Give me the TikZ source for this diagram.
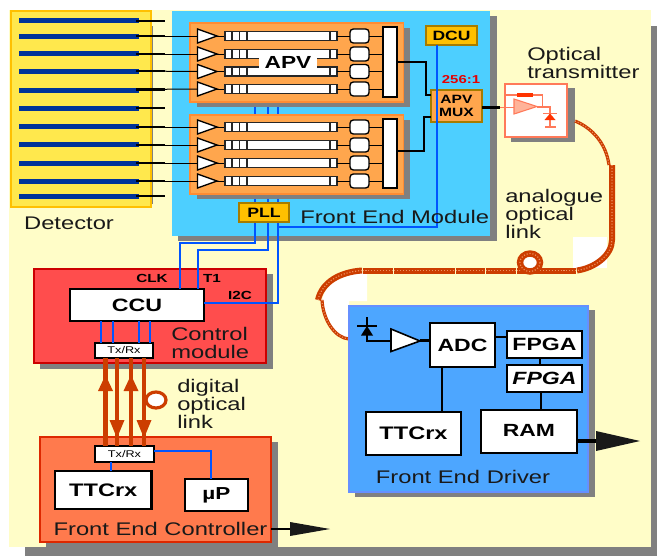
\documentclass[tikz,border=0pt]{standalone}
\usepackage{fontspec}
\setmainfont[FakeStretch=1.3]{Liberation Sans}
\definecolor{bgyellow}{HTML}{FFFDC8}
\definecolor{shadowgray}{HTML}{808080}
\definecolor{detfill}{HTML}{FFE84D}
\definecolor{detline}{HTML}{FFC000}
\definecolor{strip}{HTML}{003399}
\definecolor{modblue}{HTML}{4DCFFF}
\definecolor{apvor}{HTML}{FFA64D}
\definecolor{apvline}{HTML}{FF8C33}
\definecolor{brownline}{HTML}{A67C00}
\definecolor{gold}{HTML}{FFC000}
\definecolor{wire}{HTML}{0055FF}
\definecolor{ctrlred}{HTML}{FF4D4D}
\definecolor{ctrlline}{HTML}{CC0000}
\definecolor{fecor}{HTML}{FF7A4D}
\definecolor{fecline}{HTML}{DD2800}
\definecolor{fedblue}{HTML}{4DA6FF}
\definecolor{fedline}{HTML}{6690FF}
\definecolor{link}{HTML}{CC3D00}
\definecolor{txline}{HTML}{FF7A5A}
\definecolor{txfill}{HTML}{FFB399}
\definecolor{fibrelight}{HTML}{EE9060}
\newcommand{\bx}[7][]{%
  \node[boxbase,#1,minimum width={((#5)-(#3))*0.75pt},minimum height={((#6)-(#4))*0.75pt}] (#2) at ({((#3)+(#5))/2},{((#4)+(#6))/2}) {#7};}
\newcommand{\shd}[4]{\fill[fill=shadowgray] (#1,#2) rectangle (#3,#4);}
\tikzset{
  x=0.75pt,y=-0.75pt,
  boxbase/.style={rectangle,inner sep=0pt,outer sep=0pt},
  wbox/.style={draw=black,fill=white,line width=1.6pt},
  lab/.style={font=\fontsize{13.7}{13.5}\selectfont,text=black!90,inner sep=0pt},
  labl/.style={lab,anchor=west},
  thinw/.style={draw=black,line width=0.75pt},
  blk/.style={draw=black,line width=1.6pt},
  bw/.style={draw=wire,line width=1.5pt},
  stub/.style={draw=black,line width=1.9pt},
  goldbox/.style={draw=brownline,fill=gold,line width=1.5pt,font=\bfseries\fontsize{10.1}{11}\selectfont},
  fib/.style={draw=link,line width=#1},
  fibd/.style={draw=fibrelight,line width=0.9pt,dash pattern=on 0.8pt off 1.4pt},
  fl/.style={draw=link,line width=3.2pt},
}
\begin{document}
\begin{tikzpicture}
\useasboundingbox (0,0) rectangle (657,557);
% page
\fill[fill=shadowgray] (25,26) rectangle (657,556);
\fill[white] (0,0) rectangle (651,26);
\fill[white] (0,26) rectangle (25,557);
\fill[white] (651,0) rectangle (657,26);
\fill[white] (0,556) rectangle (657,557);
\fill[bgyellow] (9,10) rectangle (651,547);
\fill[white] (573,237) rectangle (607,268);
\fill[white] (362,273) .. controls (340,275) and (325,285) .. (322,300) .. controls (323,320) and (335,338) .. (349,340) -- (349,301) -- (367,301) -- (367,273) -- cycle;
% detector
\shd{14}{26}{153}{204}
\bx[draw=detline,fill=detfill,line width=1.5pt]{det}{11}{11}{151}{207}{}
\foreach \i/\y in {1/20.5,2/36.5,3/53.5,4/71.5,5/90,6/108,7/126.5,8/144.5,9/163,10/181,11/196.5}{
  \bx[fill=strip]{s\i}{19}{\y-2.5}{139}{\y+2.5}{}
}
% module
\shd{178}{16}{497}{241}
\bx[fill=modblue]{fem}{172}{11}{490}{236}{}
\foreach \i/\y in {1/21,2/36,3/54,4/71,5/89.5,6/108,7/127,8/145,9/163,10/181,11/196}{
  \coordinate (st\i) at (136,\y);
  \coordinate (se\i) at (165,\y);
}
% blue wires under APV boxes
\foreach \xx in {255,267.5,278}{ \draw[bw] (\xx,102) -- (\xx,204); }
% APV boxes
\shd{197}{28}{410}{107}
\shd{197}{120}{410}{199}
\bx[draw=apvline,fill=apvor,line width=1pt]{apva}{190}{23}{403.5}{102}{}
\bx[draw=apvline,fill=apvor,line width=1pt]{apvb}{190}{115}{403.5}{194}{}
\bx[draw=black,fill=white,line width=0.8pt]{oa}{383}{27}{397}{97}{}
\bx[draw=black,fill=white,line width=0.8pt]{ob}{383}{119}{397}{188}{}
\foreach \i/\y/\o in {2/36/oa,3/54/oa,4/71.5/oa,5/89/oa,7/127/ob,8/145/ob,9/163/ob,10/181/ob}{
  \draw[thinw] (st\i) -- (197.5,\y);
  \draw[thinw] (217,\y) -- (225,\y);
  \bx[draw=black!85,fill=white,line width=1pt]{bar\i}{225}{\y-4.5}{337}{\y+4.5}{}
  \foreach \dd in {232,239.5,247,330}{ \draw[draw=black!85,line width=0.9pt] (\dd,\y-4.5) -- (\dd,\y+4.5); }
  \draw[draw=black,fill=white,line width=1pt] (197.5,\y-7) -- (217,\y) -- (197.5,\y+7) -- cycle;
  \bx[draw=black,fill=white,line width=1pt,rounded corners=2.5pt]{r\i}{350}{\y-7}{369}{\y+7}{}
  \draw[thinw] (bar\i.east) -- (r\i.west);
  \draw[thinw] (r\i.east) -- (r\i.east -| \o.west);
}
\fill[apvor] (247.8,59.4) rectangle (258,66.4);
\node[boxbase,fill=white,minimum width=44pt,minimum height=18pt,font=\bfseries\fontsize{13.1}{14}\selectfont] (apvl) at (288,62) {APV};
% stubs
\foreach \i in {1,...,11}{ \draw[stub] (st\i) -- (se\i); }
% mux and dcu
\bx[goldbox,fill=apvor,font=\bfseries\fontsize{9}{9.6}\selectfont,align=center]{mux}{431}{90}{482}{122}{APV\\MUX}
\bx[goldbox]{dcu}{426}{26}{477}{45}{DCU}
\draw[blk] (oa.east |- 0,62) -- (426,62) -- (426,95) -- (mux.west |- 0,95);
\draw[blk] (ob.east |- 0,151) -- (424,151) -- (424,117) -- (mux.west |- 0,117);
\draw[bw] (436.7,0 |- dcu.south) -- (436.7,227) -- (278,227);
\node[font=\bfseries\fontsize{8.6}{10}\selectfont,text=red!90!black,inner sep=0pt] (ratio) at (461,80) {256:1};
\node[labl] (femt) at (300,217) {Front End Module};
\node[lab] (dett) at (69,223) {Detector};
% optical transmitter
\shd{511}{88}{574.5}{142}
\draw[draw=black,line width=1.6pt] (mux.east |- 0,107.5) -- (500,107.5);
\bx[draw=txline,fill=white,line width=1.5pt]{tx}{505}{84}{567}{137}{}
\draw[draw=txline,line width=1.2pt] (500,107.5) -- (514,107.5);
\draw[draw=txline,line width=0.8pt] (506,95) -- (542.5,95) -- (542.5,107);
\draw[draw=txline,fill=txfill,line width=0.8pt] (514,99) -- (537,106.5) -- (514,114) -- cycle;
\draw[draw=txline,line width=1pt] (537,107) -- (550,107) -- (550,127);
\draw[draw=red!60!orange,line width=2.4pt] (517,95) -- (533,95);
\draw[draw=txline,line width=1pt] (543,113.5) -- (557,113.5) (545,127) -- (556,127);
\fill[red!60!orange] (550,113.5) -- (555.5,120) -- (544.5,120) -- cycle;
\node[labl,align=left] (txt) at (527,63) {Optical\\transmitter};
\node[labl,align=left] (anl) at (505,214) {analogue\\optical\\link};
% fibre
\draw[fib=2.4pt] (575,121) .. controls (592,128) and (606,143) .. (609,165);
\draw[fibd] (575,121) .. controls (592,128) and (606,143) .. (609,165);
\draw[fib=4.5pt] (612,165) -- (612,240) .. controls (612,255) and (595,268) .. (577,270.5);
\draw[fibd] (612,165) -- (612,240) .. controls (612,255) and (595,268) .. (577,270.5);
\foreach \a/\b in {362.5/393,394/454.5,455.5/484.5,485.5/515.5,516.5/576}{
  \draw[fib=4.5pt] (\a,270.5) -- (\b,270.5);
  \draw[fibd] (\a,270.5) -- (\b,270.5);
}
\draw[fib=4.5pt] (362,270.5) .. controls (340,272) and (322,282) .. (318,300);
\draw[fibd] (362,270.5) .. controls (340,272) and (322,282) .. (318,300);
\draw[fib=2.4pt] (322,300) .. controls (323,320) and (335,338) .. (349,339);
\draw[fibd] (322,300) .. controls (323,320) and (335,338) .. (349,339);
\draw[fib=4.8pt,fill=white] (530,262.5) ellipse [x radius=10, y radius=9];
\draw[fibd] (530,262.5) ellipse [x radius=10, y radius=9];
% control module
\shd{40}{274}{272.5}{368.5}
\bx[draw=ctrlline,fill=ctrlred,line width=1.5pt]{cm}{34}{269}{265.5}{363}{}
\bx[wbox,font=\bfseries\fontsize{13.4}{14}\selectfont]{ccu}{70}{289}{204}{321}{CCU}
\bx[draw=black,fill=white,line width=1.5pt,font=\fontsize{7.3}{8}\selectfont]{txa}{95}{343}{153}{358}{Tx/Rx}
\foreach \xx in {101,113,139,149.7}{ \draw[bw] (\xx,0 |- ccu.south) -- (\xx,0 |- txa.north); }
\draw[bw] (255,203) -- (255,243) -- (180,243) -- (180,0 |- ccu.north);
\draw[bw] (267.5,203) -- (267.5,249.5) -- (198,249.5) -- (198,0 |- ccu.north);
\draw[bw] (278,203) -- (278,302.7) -- (ccu.east |- 0,302.7);
\bx[goldbox,font=\bfseries\fontsize{10.2}{11}\selectfont]{pll}{239}{203}{289}{222}{PLL}
\foreach \n/\xx/\yy/\tt in {clk/152/278/CLK,ti/212/278/T1,ic/240/295/I2C}{
  \node[font=\bfseries\fontsize{8.8}{9}\selectfont,inner sep=0pt] (\n) at (\xx,\yy) {\tt};
}
\node[labl,align=left] (cmt) at (171,342.5) {Control\\module};
% FEC
\shd{46}{442}{278}{547}
\bx[draw=fecline,fill=fecor,line width=1.5pt]{fec}{40}{437}{271}{542}{}
\bx[draw=black,fill=white,line width=1.5pt,font=\fontsize{7.3}{8}\selectfont]{txb}{95}{446}{154}{462}{Tx/Rx}
\bx[wbox,font=\bfseries\fontsize{13.6}{14}\selectfont]{ttca}{55}{471}{151.5}{509}{TTCrx}
\bx[wbox,font=\bfseries\fontsize{13}{14}\selectfont]{up}{185}{479}{248}{511}{µP}
\draw[bw] (111,0 |- txb.south) -- (111,0 |- ttca.north);
\draw[bw] (txb.east |- 0,450.5) -- (211,450.5) -- (211,0 |- up.north);
\foreach \xx in {105.5,117,131,144}{ \draw[fl] (\xx,0 |- txa.south) -- (\xx,0 |- txb.north); }
\foreach \xx in {105.5,131}{ \fill[link] (\xx,375) -- (\xx+7.5,391) -- (\xx-7.5,391) -- cycle; }
\foreach \xx in {117,144}{ \fill[link] (\xx,438) -- (\xx+7.5,420) -- (\xx-7.5,420) -- cycle; }
\draw[fl,line width=2.4pt,fill=white] (156,400) ellipse [x radius=10, y radius=8];
\node[labl,align=left] (dol) at (177,404) {digital\\optical\\link};
\node[lab] (fect) at (160.5,529) {Front End Controller};
\coordinate (feca) at (330,529);
\draw[draw=black,line width=2.2pt] (fec.east |- feca) -- (292,529);
\fill[black!90] (290,522) -- (feca) -- (290,536) -- cycle;
% FED
\shd{355}{310}{595}{497}
\bx[draw=fedline,fill=fedblue,line width=1.5pt]{fed}{349}{306}{588}{492}{}
\bx[wbox,font=\bfseries\fontsize{13.3}{14}\selectfont]{adc}{430}{323}{495}{367}{ADC}
\bx[wbox,font=\bfseries\fontsize{13.3}{14}\selectfont]{fa}{507}{331}{582}{358}{FPGA}
\bx[wbox,font=\bfseries\itshape\fontsize{13.3}{14}\selectfont]{fb}{507}{365}{582}{392}{FPGA}
\bx[wbox,font=\bfseries\fontsize{13.6}{14}\selectfont]{ttcb}{366}{412}{461}{455}{TTCrx}
\bx[wbox,font=\bfseries\fontsize{13.2}{14}\selectfont]{ram}{481}{410}{577}{453}{\raisebox{2pt}{RAM}}
\draw[blk] (adc.east |- 0,337) -- (fa.west |- 0,337);
\draw[blk] (540,0 |- fa.south) -- (540,0 |- fb.north);
\draw[blk] (541,0 |- fb.south) -- (541,0 |- ram.north);
\draw[blk] (441.7,0 |- adc.south) -- (441.7,0 |- ttcb.north);
\draw[draw=black,line width=1.2pt] (367,317) -- (367,341) -- (391,341);
\draw[draw=black,line width=1.2pt] (357,326) -- (377,326);
\fill[black] (367,326) -- (373,335.5) -- (361,335.5) -- cycle;
\draw[draw=black,fill=white,line width=1.2pt] (391,329) -- (420,341) -- (391,351.5) -- cycle;
\draw[blk] (420,340.5) -- (adc.west |- 0,340.5);
\coordinate (rama) at (640,441);
\draw[draw=black,line width=2.4pt] (ram.east |- rama) -- (598,441);
\fill[black!90] (596,431) -- (rama) -- (596,451) -- cycle;
\node[lab] (fedt) at (463,477) {Front End Driver};
\end{tikzpicture}
\end{document}
